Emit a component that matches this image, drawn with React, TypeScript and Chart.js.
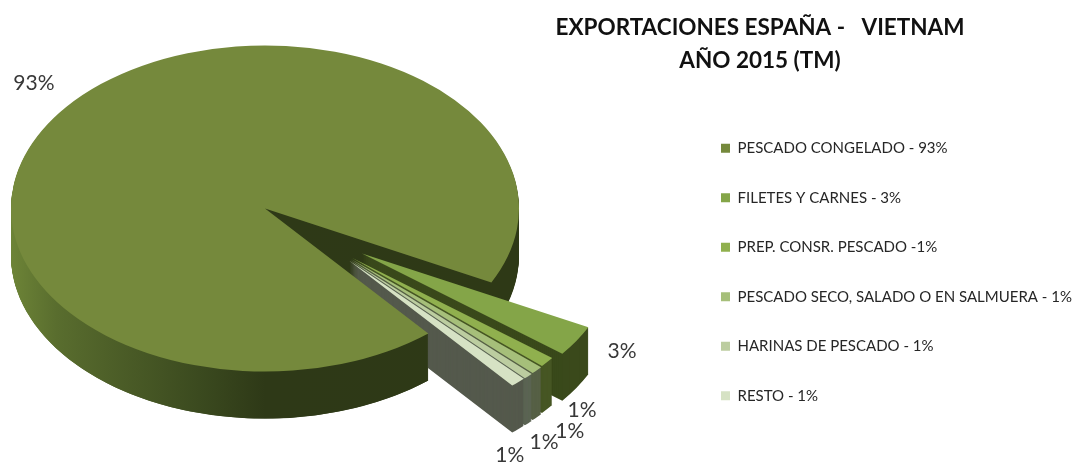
import React, { useEffect, useRef } from "react";
import { Chart, registerables } from "chart.js";

Chart.register(...registerables);

const categories = [
  "PESCADO CONGELADO - 93%",
  "FILETES Y CARNES - 3%",
  "PREP. CONSR. PESCADO -1%",
  "PESCADO SECO, SALADO O EN SALMUERA - 1%",
  "HARINAS DE PESCADO - 1%",
  "RESTO - 1%",
];
const shareValues = [93.6, 3.05, 1.0, 0.78, 0.6, 0.97];
const valueLabels = ["93%", "3%", "1%", "1%", "1%", "1%"];
const titleLines = ["EXPORTACIONES ESPAÑA -   VIETNAM", "AÑO 2015 (TM)"];

const topColors = ["#75893c", "#84a548", "#90b04e", "#a6bf7a", "#bccda0", "#d6e2c4"];
const wallColors = ["#2e3916", "#3a491b", "#465623", "#566045", "#5b6453", "#54594c"];

// Exploded slices: distance and direction in the un-squashed pie plane
const explodeDistance = [0, 119.6, 116, 116.6, 116.9, 116.7];
const explodeAngle = [0, 35.8, 41.5, 42.5, 43.3, 44];
// Label placement around the pie, in the un-squashed pie plane
const labelRadius = [302.6, 421, 446, 461.7, 458.4, 455.5];
const labelAngle = [220.2, 32, 44.7, 48.7, 52.5, 57.5];

const PIE = { cx: 265, cy: 208.5, radius: 254, squash: 0.642, depth: 47, rotation: 140 };
const FONT = "Lato";

const flatOptions = (backgroundColor: any) => ({
  backgroundColor,
  borderColor: "transparent",
  borderWidth: 0,
  offset: 0,
  spacing: 0,
  circular: true,
  borderAlign: "center",
  borderRadius: 0,
});

const pie3d = {
  id: "pie3d",
  afterLayout(chart: any) {
    const t = chart.titleBlock;
    t.left = 442;
    t.right = 1078;
    chart.legend.left = 686.5;
  },
  beforeDatasetsDraw(chart: any) {
    const ctx = chart.ctx as CanvasRenderingContext2D;
    const arcs = chart.getDatasetMeta(0).data as any[];

    const paint = (arc: any, bg: any, i: number, drop: number) => {
      const a = (explodeAngle[i] * Math.PI) / 180;
      const ex = Math.cos(a) * explodeDistance[i];
      const ey = Math.sin(a) * explodeDistance[i] * PIE.squash;
      ctx.save();
      ctx.translate(PIE.cx + ex, PIE.cy + ey + drop);
      ctx.scale(1, PIE.squash);
      ctx.translate(-arc.x, -arc.y);
      const el = Object.create(arc);
      el.options = flatOptions(bg);
      el.draw(ctx);
      ctx.restore();
    };

    const main = arcs[0];
    const g = ctx.createLinearGradient(main.x - PIE.radius, 0, main.x + PIE.radius, 0);
    g.addColorStop(0, "#6d8437");
    g.addColorStop(0.09, "#596d2e");
    g.addColorStop(0.18, "#4f6129");
    g.addColorStop(0.37, "#3b4a1f");
    g.addColorStop(0.5, "#2e3917");
    g.addColorStop(1, "#2e3916");

    // back of the main slice (its wall facing the gap)
    for (let d = PIE.depth; d > 0; d--) paint(main, g, 0, d);

    // exploded slices, back to front
    for (let i = 1; i < arcs.length; i++) {
      for (let d = PIE.depth; d > 0; d--) paint(arcs[i], wallColors[i], i, d);
      paint(arcs[i], topColors[i], i, 0);
    }

    // front of the main slice hides the exploded slices' inner wall
    const front = Object.create(main);
    front.endAngle = Math.PI + 0.4;
    front.circumference = front.endAngle - main.startAngle;
    for (let d = PIE.depth; d > 0; d--) paint(front, g, 0, d);
    paint(main, topColors[0], 0, 0);

    // value labels
    ctx.save();
    ctx.font = `21px ${FONT}`;
    ctx.fillStyle = "#383838";
    ctx.textAlign = "center";
    ctx.textBaseline = "middle";
    valueLabels.forEach((text, i) => {
      const a = (labelAngle[i] * Math.PI) / 180;
      ctx.fillText(
        text,
        PIE.cx + Math.cos(a) * labelRadius[i],
        PIE.cy + Math.sin(a) * labelRadius[i] * PIE.squash
      );
    });
    ctx.restore();
    return false;
  },
};

export default function App() {
  const ref = useRef<HTMLCanvasElement>(null);
  useEffect(() => {
    const chart = new Chart(ref.current as HTMLCanvasElement, {
      type: "pie",
      plugins: [pie3d],
      data: {
        labels: categories,
        datasets: [{ data: shareValues, backgroundColor: topColors, borderWidth: 0 }],
      },
      options: {
        responsive: false,
        animation: false,
        radius: PIE.radius,
        rotation: PIE.rotation,
        layout: { padding: { top: 81 } },
        plugins: {
          tooltip: { enabled: false },
          title: {
            display: true,
            text: titleLines,
            align: "center",
            color: "#111111",
            font: { family: FONT, size: 22.5, weight: "bold", lineHeight: 1.44 },
            padding: { top: -69, bottom: 0 },
          },
          legend: {
            display: true,
            position: "right",
            labels: {
              boxWidth: 9,
              boxHeight: 9,
              padding: 34.5,
              color: "#262626",
              font: { family: FONT, size: 15 },
            },
          },
        },
      } as any,
    });
    return () => chart.destroy();
  }, []);
  return (
    <div style={{ position: "absolute", left: 0, top: 0, width: 1078, height: 463, background: "#fff" }}>
      <canvas ref={ref} width={1078} height={463} style={{ display: "block" }} />
    </div>
  );
}
